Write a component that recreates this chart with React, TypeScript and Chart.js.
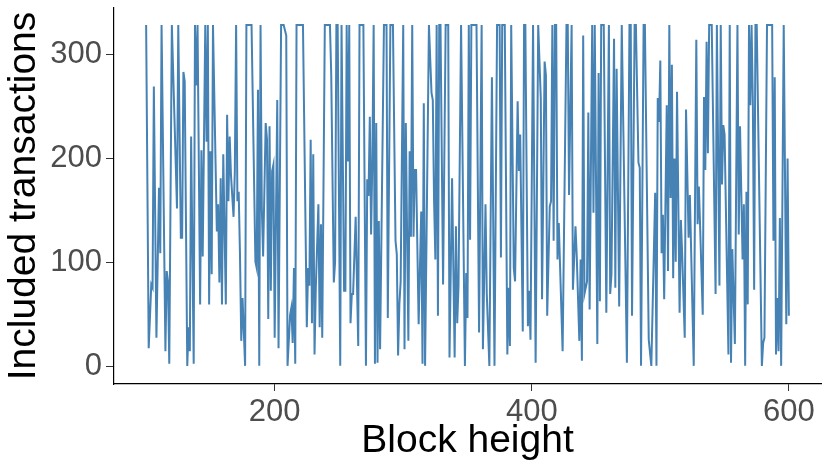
import React, { useEffect, useRef } from "react";
import { Chart, registerables } from "chart.js";

Chart.register(...registerables);

// Block heights (x) and included transactions (y)
const blockHeights: number[] = [
  100, 102, 104, 105, 106, 108, 110, 111, 112, 115, 116, 117, 118, 120, 124, 125, 127, 128, 129, 130,
  132, 133, 134, 135, 137, 138, 139, 140, 142, 143, 144, 146, 147, 148, 149, 150, 151, 152, 155, 156,
  157, 158, 159, 160, 162, 163, 164, 165, 166, 168, 169, 170, 171, 172, 173, 174, 175, 177, 178, 182,
  185, 186, 187, 188, 189, 190, 191, 193, 194, 195, 196, 197, 198, 199, 200, 202, 203, 205, 207, 209,
  210, 212, 213, 214, 215, 216, 217, 222, 225, 226, 227, 228, 229, 230, 231, 232, 234, 235, 236, 237,
  239, 243, 244, 246, 247, 248, 249, 251, 252, 254, 255, 256, 257, 258, 259, 260, 261, 263, 265, 266,
  269, 271, 272, 273, 274, 275, 276, 277, 278, 279, 280, 281, 282, 285, 287, 288, 290, 292, 294, 295,
  296, 297, 298, 300, 301, 302, 304, 305, 306, 307, 308, 309, 310, 312, 314, 315, 316, 317, 320, 322,
  323, 324, 325, 326, 327, 328, 329, 331, 333, 335, 336, 338, 340, 341, 342, 343, 345, 348, 349, 350,
  351, 352, 353, 357, 359, 361, 362, 364, 365, 367, 369, 371, 373, 375, 376, 377, 379, 381, 382, 383,
  384, 386, 387, 389, 390, 391, 393, 394, 395, 397, 398, 399, 401, 403, 405, 407, 408, 410, 411, 412,
  414, 415, 416, 417, 418, 419, 420, 421, 424, 427, 428, 429, 431, 432, 434, 435, 437, 438, 439, 440,
  441, 443, 444, 445, 447, 448, 449, 451, 452, 453, 454, 456, 458, 460, 461, 462, 464, 465, 466, 468,
  470, 474, 476, 477, 478, 480, 481, 483, 484, 485, 487, 488, 491, 493, 496, 497, 498, 499, 500, 501,
  502, 503, 505, 506, 507, 508, 509, 510, 511, 512, 513, 515, 516, 517, 519, 520, 522, 523, 526, 528,
  529, 530, 531, 533, 534, 535, 536, 537, 538, 540, 543, 544, 546, 547, 548, 549, 550, 553, 554, 555,
  556, 558, 560, 561, 562, 564, 565, 566, 567, 568, 569, 570, 571, 572, 573, 574, 575, 579, 580, 581,
  583, 587, 588, 589, 590, 591, 592, 593, 594, 596, 598, 599, 600,
];

const includedTx: number[] = [
  328, 18, 79, 76, 269, 28, 172, 109, 328, 15, 92, 82, 3, 328, 152, 328, 124, 124, 283, 274,
  1, 38, 15, 221, 3, 328, 270, 328, 60, 208, 106, 328, 216, 328, 60, 207, 89, 328, 130, 156,
  81, 181, 60, 204, 60, 242, 159, 221, 184, 144, 188, 328, 159, 168, 108, 25, 66, 1, 328, 328,
  101, 95, 266, 1, 328, 152, 106, 234, 219, 46, 231, 73, 188, 194, 28, 256, 18, 328, 328, 318,
  1, 50, 57, 23, 95, 3, 328, 328, 38, 95, 78, 218, 42, 204, 12, 76, 156, 38, 137, 28,
  328, 328, 280, 81, 101, 328, 328, 1, 328, 73, 73, 328, 197, 328, 42, 70, 70, 144, 20, 328,
  328, 1, 180, 164, 240, 127, 200, 328, 3, 234, 4, 140, 17, 328, 328, 47, 328, 328, 121, 108,
  11, 60, 82, 328, 17, 234, 25, 207, 125, 328, 125, 189, 189, 41, 149, 3, 253, 1, 328, 263,
  256, 159, 103, 328, 49, 328, 328, 79, 328, 328, 9, 181, 9, 135, 42, 78, 328, 1, 90, 47,
  328, 122, 328, 328, 33, 328, 17, 156, 70, 1, 278, 1, 328, 328, 105, 328, 328, 12, 76, 20,
  328, 95, 82, 255, 188, 223, 34, 328, 328, 39, 73, 26, 328, 4, 328, 258, 65, 293, 280, 49,
  154, 159, 328, 121, 328, 328, 103, 138, 15, 328, 328, 165, 328, 74, 135, 106, 25, 103, 6, 318,
  70, 82, 244, 55, 328, 148, 328, 22, 282, 63, 328, 328, 52, 328, 70, 89, 315, 76, 286, 58,
  328, 4, 328, 328, 49, 328, 328, 196, 191, 1, 328, 328, 26, 1, 167, 1, 258, 235, 294, 109,
  146, 65, 251, 92, 328, 162, 290, 85, 200, 101, 264, 52, 141, 108, 28, 247, 124, 165, 1, 314,
  137, 173, 133, 50, 259, 189, 312, 205, 328, 328, 70, 328, 78, 328, 175, 232, 223, 12, 328, 4,
  113, 22, 328, 127, 231, 103, 156, 1, 168, 60, 328, 251, 328, 251, 74, 328, 328, 1, 23, 28,
  328, 328, 121, 278, 12, 66, 15, 143, 1, 328, 41, 200, 49,
];

const yTickValues: number[] = [0, 100, 200, 300];
const xTickValues: number[] = [200, 400, 600];

const FONT = "'Liberation Sans', Arial, Helvetica, sans-serif";

export default function App() {
  const canvasRef = useRef<HTMLCanvasElement | null>(null);

  useEffect(() => {
    const canvas = canvasRef.current;
    if (!canvas) return;
    const points = blockHeights.map((b, i) => ({ x: b, y: includedTx[i] }));
    const chart = new Chart(canvas, {
      type: "line",
      data: {
        datasets: [
          {
            data: points,
            borderColor: "#4682B4",
            borderWidth: 2,
            pointRadius: 0,
            tension: 0,
            fill: false,
          },
        ],
      },
      options: {
        animation: false,
        responsive: false,
        maintainAspectRatio: false,
        layout: { padding: { top: 8, right: 9, left: 0, bottom: 0 } },
        plugins: { legend: { display: false }, tooltip: { enabled: false } },
        scales: {
          x: {
            type: "linear",
            min: 75,
            max: 625,
            afterBuildTicks: (scale: any) => {
              scale.ticks = xTickValues.map((v) => ({ value: v }));
            },
            afterFit: (scale: any) => {
              scale.height = 91;
              scale.paddingLeft = 0;
              scale.paddingRight = 0;
            },
            grid: {
              drawOnChartArea: false,
              drawTicks: true,
              tickLength: 7,
              color: "#333333",
              lineWidth: 1,
            },
            border: { display: true, color: "#000000", width: 1.2 },
            ticks: {
              color: "#4D4D4D",
              font: { family: FONT, size: 31 },
              padding: 3,
              maxRotation: 0,
              autoSkip: false,
            },
            title: {
              display: true,
              text: "Block height",
              color: "#000000",
              font: { family: FONT, size: 39 },
              padding: { top: 0, bottom: 10 },
            },
          },
          y: {
            type: "linear",
            min: -16.4,
            max: 344.4,
            afterBuildTicks: (scale: any) => {
              scale.ticks = yTickValues.map((v) => ({ value: v }));
            },
            afterFit: (scale: any) => {
              scale.width = 114;
              scale.paddingTop = 0;
              scale.paddingBottom = 0;
            },
            grid: {
              drawOnChartArea: false,
              drawTicks: true,
              tickLength: 8,
              color: "#333333",
              lineWidth: 1,
            },
            border: { display: true, color: "#000000", width: 1.2 },
            ticks: {
              color: "#4D4D4D",
              font: { family: FONT, size: 31 },
              padding: 4,
              autoSkip: false,
            },
            title: {
              display: true,
              text: "Included transactions",
              color: "#000000",
              font: { family: FONT, size: 39 },
              padding: { top: 1, bottom: 0 },
            },
          },
        },
      },
    });
    return () => chart.destroy();
  }, []);

  return (
    <div style={{ position: "fixed", left: 0, top: 0, width: 830, height: 475, background: "#ffffff" }}>
      <canvas ref={canvasRef} width={830} height={475} style={{ width: 830, height: 475 }} />
    </div>
  );
}
